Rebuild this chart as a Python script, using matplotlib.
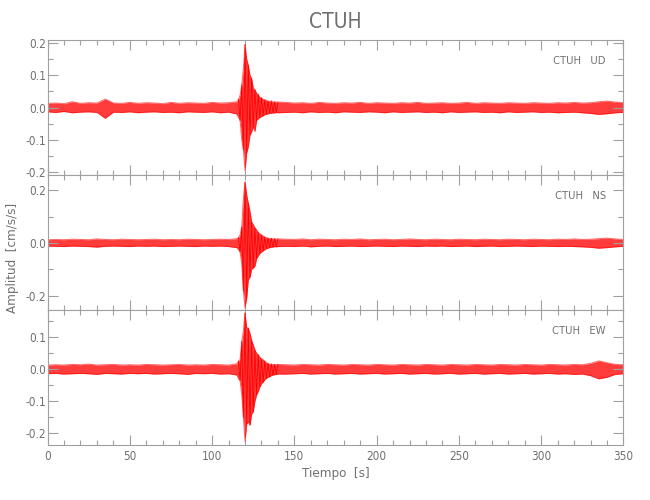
import matplotlib
matplotlib.use('Agg')
import matplotlib.pyplot as plt
from matplotlib.ticker import MultipleLocator, FormatStrFormatter
import numpy as np

# sample times of the envelope readings [s]
t_knots = list(range(0, 116, 5)) + list(range(116, 141)) + list(range(145, 351, 5))

# UD component envelope [cm/s/s]
ud_hi = [0.013, 0.014, 0.012, 0.018, 0.013, 0.015, 0.014, 0.026, 0.014, 0.013, 0.016, 0.013,
         0.015, 0.014, 0.012, 0.016, 0.013, 0.015, 0.014, 0.013, 0.016, 0.014, 0.015, 0.018,
         0.025, 0.038, 0.07, 0.12, 0.194, 0.15, 0.13, 0.10, 0.09, 0.06, 0.055, 0.045, 0.04,
         0.032, 0.03, 0.025, 0.024, 0.022, 0.02, 0.019, 0.02, 0.017, 0.018, 0.016, 0.017,
         0.016, 0.014, 0.015, 0.013, 0.016, 0.014, 0.013, 0.015, 0.014, 0.016, 0.013, 0.015,
         0.014, 0.013, 0.015, 0.014, 0.016, 0.013, 0.014, 0.015, 0.013, 0.014, 0.016, 0.013,
         0.015, 0.014, 0.013, 0.015, 0.014, 0.013, 0.015, 0.014, 0.013, 0.015, 0.014, 0.016,
         0.014, 0.015, 0.018, 0.02, 0.017, 0.015]
ud_lo = [-0.013, -0.015, -0.012, -0.016, -0.014, -0.013, -0.015, -0.033, -0.014, -0.015, -0.013, -0.016,
         -0.014, -0.013, -0.015, -0.014, -0.016, -0.013, -0.014, -0.015, -0.013, -0.016, -0.014, -0.02,
         -0.03, -0.04, -0.1, -0.13, -0.195, -0.14, -0.12, -0.085, -0.075, -0.06, -0.074, -0.04, -0.035,
         -0.03, -0.028, -0.025, -0.022, -0.02, -0.02, -0.017, -0.018, -0.016, -0.017, -0.015, -0.016,
         -0.015, -0.014, -0.016, -0.013, -0.015, -0.014, -0.016, -0.013, -0.014, -0.015, -0.013, -0.014,
         -0.016, -0.013, -0.015, -0.014, -0.013, -0.015, -0.014, -0.016, -0.013, -0.015, -0.014, -0.013,
         -0.015, -0.014, -0.016, -0.013, -0.015, -0.014, -0.013, -0.015, -0.014, -0.016, -0.015, -0.014,
         -0.016, -0.018, -0.021, -0.019, -0.016, -0.015]

# NS component envelope
ns_hi = [0.012, 0.013, 0.012, 0.014, 0.013, 0.012, 0.015, 0.013, 0.012, 0.014, 0.013, 0.012,
         0.013, 0.014, 0.012, 0.013, 0.012, 0.014, 0.013, 0.012, 0.013, 0.014, 0.013, 0.016,
         0.02, 0.03, 0.06, 0.171, 0.231, 0.183, 0.15, 0.12, 0.08, 0.07, 0.057, 0.05, 0.04,
         0.035, 0.03, 0.026, 0.022, 0.02, 0.018, 0.016, 0.017, 0.015, 0.016, 0.014, 0.015,
         0.014, 0.013, 0.015, 0.012, 0.014, 0.013, 0.012, 0.014, 0.013, 0.015, 0.012, 0.013,
         0.014, 0.012, 0.013, 0.015, 0.013, 0.012, 0.014, 0.013, 0.012, 0.014, 0.013, 0.012,
         0.014, 0.013, 0.012, 0.014, 0.013, 0.012, 0.014, 0.013, 0.012, 0.014, 0.013, 0.015,
         0.013, 0.014, 0.016, 0.018, 0.015, 0.013]
ns_lo = [-0.012, -0.013, -0.014, -0.012, -0.013, -0.014, -0.016, -0.013, -0.012, -0.013, -0.014, -0.012,
         -0.013, -0.012, -0.014, -0.013, -0.012, -0.013, -0.014, -0.012, -0.013, -0.012, -0.014, -0.018,
         -0.025, -0.035, -0.08, -0.183, -0.247, -0.209, -0.14, -0.13, -0.1, -0.095, -0.089, -0.06, -0.05,
         -0.04, -0.035, -0.03, -0.026, -0.022, -0.02, -0.018, -0.016, -0.016, -0.014, -0.015, -0.014,
         -0.013, -0.014, -0.012, -0.015, -0.013, -0.012, -0.014, -0.013, -0.012, -0.014, -0.013, -0.012,
         -0.013, -0.014, -0.012, -0.013, -0.014, -0.012, -0.013, -0.012, -0.014, -0.013, -0.012, -0.014,
         -0.013, -0.012, -0.014, -0.013, -0.012, -0.013, -0.014, -0.012, -0.013, -0.014, -0.013, -0.014,
         -0.015, -0.017, -0.02, -0.018, -0.015, -0.013]

# EW component envelope
ew_hi = [0.013, 0.014, 0.013, 0.015, 0.014, 0.016, 0.013, 0.014, 0.015, 0.013, 0.014, 0.013,
         0.015, 0.014, 0.013, 0.014, 0.015, 0.013, 0.014, 0.013, 0.015, 0.014, 0.013, 0.017,
         0.025, 0.03, 0.086, 0.12, 0.175, 0.13, 0.128, 0.112, 0.09, 0.076, 0.06, 0.05, 0.045,
         0.038, 0.032, 0.03, 0.025, 0.02, 0.018, 0.015, 0.016, 0.014, 0.015, 0.014, 0.015,
         0.014, 0.013, 0.015, 0.014, 0.013, 0.015, 0.014, 0.013, 0.015, 0.014, 0.013, 0.015,
         0.014, 0.013, 0.015, 0.014, 0.013, 0.015, 0.014, 0.013, 0.015, 0.014, 0.013, 0.015,
         0.014, 0.013, 0.015, 0.014, 0.013, 0.015, 0.014, 0.013, 0.015, 0.014, 0.013, 0.015,
         0.014, 0.018, 0.026, 0.02, 0.015, 0.014]
ew_lo = [-0.014, -0.013, -0.015, -0.014, -0.013, -0.014, -0.016, -0.013, -0.014, -0.015, -0.013, -0.014,
         -0.013, -0.015, -0.014, -0.013, -0.014, -0.016, -0.013, -0.014, -0.013, -0.015, -0.014, -0.018,
         -0.03, -0.035, -0.08, -0.15, -0.225, -0.17, -0.164, -0.174, -0.14, -0.132, -0.1, -0.08, -0.07,
         -0.055, -0.045, -0.04, -0.033, -0.028, -0.025, -0.023, -0.02, -0.018, -0.017, -0.016, -0.015,
         -0.015, -0.014, -0.013, -0.015, -0.014, -0.013, -0.015, -0.014, -0.013, -0.015, -0.014, -0.013,
         -0.015, -0.014, -0.013, -0.015, -0.014, -0.013, -0.015, -0.014, -0.013, -0.015, -0.014, -0.013,
         -0.015, -0.014, -0.013, -0.015, -0.014, -0.013, -0.015, -0.014, -0.013, -0.015, -0.014, -0.016,
         -0.015, -0.02, -0.03, -0.025, -0.016, -0.014]

station = 'CTUH'
components = ['UD', 'NS', 'EW']
ylims = [(-0.208, 0.208), (-0.256, 0.256), (-0.236, 0.184)]
major_steps = [0.1, 0.2, 0.1]
minor_steps = [0.05, 0.1, 0.05]

gray = '#707070'
spine_gray = '#a0a0a0'
plt.rcParams['font.family'] = ['DejaVu Sans']
plt.rcParams['font.stretch'] = 'condensed'
plt.rcParams['font.weight'] = 'light'

fig = plt.figure(figsize=(6.5, 5.0), dpi=100)
L, W = 0.0732, 0.886
bottoms = [0.65, 0.3794, 0.11]
H = 0.2697

hi_all = [ud_hi, ns_hi, ew_hi]
lo_all = [ud_lo, ns_lo, ew_lo]
t = np.array(t_knots, dtype=float)
event = (t >= 116) & (t <= 140)
axes = []
for i in range(3):
    ax = fig.add_axes([L, bottoms[i], W, H])
    hi = np.array(hi_all[i])
    lo = np.array(lo_all[i])
    ax.fill_between(t, lo, hi, color='#ff1a1a', alpha=0.85, lw=0)
    ax.plot(t, hi, color='#ff0000', lw=0.7, alpha=0.6)
    ax.plot(t, lo, color='#ff0000', lw=0.7, alpha=0.6)
    # zigzag through the readings where the shaking is strong
    zig = np.where(np.arange(len(t)) % 2 == 0, hi, lo)
    ax.plot(t[event], zig[event], color='#ff0000', lw=0.6)
    ax.set_xlim(0, 350)
    ax.set_ylim(*ylims[i])
    ax.xaxis.set_major_locator(MultipleLocator(50))
    ax.xaxis.set_minor_locator(MultipleLocator(10))
    ax.yaxis.set_major_locator(MultipleLocator(major_steps[i]))
    ax.yaxis.set_minor_locator(MultipleLocator(minor_steps[i]))
    ax.yaxis.set_major_formatter(FormatStrFormatter('%.1f'))
    ax.tick_params(which='both', direction='in', top=True, right=True,
                   color=spine_gray, labelcolor=gray, labelsize=8.5, width=0.8)
    ax.tick_params(which='major', length=7)
    ax.tick_params(which='minor', length=3.6)
    ax.tick_params(axis='y', pad=1)
    for s in ax.spines.values():
        s.set_color(spine_gray)
        s.set_linewidth(0.8)
    ax.text(0.9696, 0.847, station + '   ' + components[i], transform=ax.transAxes,
            ha='right', va='center', fontsize=8, color=gray)
    if i < 2:
        ax.tick_params(labelbottom=False)
    axes.append(ax)

axes[2].set_xlabel('Tiempo  [s]', fontsize=9.5, color=gray, labelpad=3)
fig.text(0.02, 0.485, 'Amplitud  [cm/s/s]', rotation=90, ha='center', va='center',
         fontsize=9.5, color=gray)
fig.text(0.516, 0.956, station, ha='center', va='center', fontsize=15, color=gray)

fig.savefig('out.png', dpi=100)
